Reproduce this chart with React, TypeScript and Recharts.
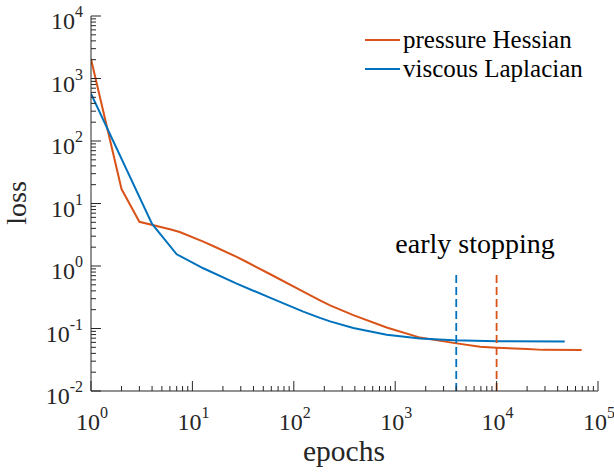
import { Customized, Legend, Line, LineChart, ReferenceLine, XAxis, YAxis } from "recharts";

// training loss (log-log)
const pressureEpochs = [1, 2, 3, 6, 7.5, 12.8, 16, 27, 34, 58, 124, 181, 228, 386, 824, 1760, 3740, 6860, 10000, 20000, 28800, 69000];
const pressureLoss = [2050, 17, 5.1, 3.87, 3.5, 2.45, 2.09, 1.41, 1.17, 0.745, 0.388, 0.282, 0.234, 0.164, 0.104, 0.0715, 0.0589, 0.0511, 0.0493, 0.0468, 0.0455, 0.0453];

const viscousEpochs = [1, 4, 7, 12.8, 27, 58, 124, 181, 228, 386, 824, 1760, 3740, 10000, 47000];
const viscousLoss = [571, 4.7, 1.54, 0.92, 0.528, 0.311, 0.186, 0.148, 0.13, 0.102, 0.0794, 0.0692, 0.0646, 0.0624, 0.0617];

// early stopping epochs: viscous, pressure
const stopEpochs = [4000, 10000];
const stopTopLoss = 0.8;

const xMajorTicks = [1, 10, 100, 1000, 10000, 100000];
const yMajorTicks = [0.01, 0.1, 1, 10, 100, 1000, 10000];

const FONT = "'Liberation Serif', 'DejaVu Serif', serif";
const AXIS = "#262626";
const ORANGE = "#D95319";
const BLUE = "#0072BD";

const pressureData = pressureEpochs.map((epoch, i) => ({ epoch, loss: pressureLoss[i] }));
const viscousData = viscousEpochs.map((epoch, i) => ({ epoch, loss: viscousLoss[i] }));

const series = [
  { name: "pressure Hessian", color: ORANGE, data: pressureData },
  { name: "viscous Laplacian", color: BLUE, data: viscousData },
];

function withMinors(majors: number[]) {
  const out: number[] = [];
  majors.forEach((m, i) => {
    out.push(m);
    if (i < majors.length - 1) for (let k = 2; k <= 9; k++) out.push(m * k);
  });
  return out;
}

const xTicks = withMinors(xMajorTicks);
const yTicks = withMinors(yMajorTicks);

function isMajor(v: number) {
  const e = Math.log10(v);
  return Math.abs(e - Math.round(e)) < 1e-6;
}

function expOf(v: number) {
  return String(Math.round(Math.log10(v)));
}

type Side = "bottom" | "top" | "left" | "right";

function AxisTick(props: any) {
  const { x, y, payload, side } = props as { x: number; y: number; payload: { value: number }; side: Side };
  const v = payload.value;
  const major = isMajor(v);
  const len = major ? 10 : 5;
  let line;
  if (side === "bottom") line = <line x1={x} x2={x} y1={y} y2={y - len} stroke={AXIS} />;
  else if (side === "top") line = <line x1={x} x2={x} y1={y} y2={y + len} stroke={AXIS} />;
  else if (side === "left") line = <line x1={x} x2={x + len} y1={y} y2={y} stroke={AXIS} />;
  else line = <line x1={x} x2={x - len} y1={y} y2={y} stroke={AXIS} />;

  let label = null;
  if (major && side === "bottom") {
    label = (
      <text x={x + 1} y={y + 39} textAnchor="middle" fontSize={24} fill={AXIS} fontFamily={FONT}>
        10<tspan dy={-12} fontSize={16}>{expOf(v)}</tspan>
      </text>
    );
  } else if (major && side === "left") {
    label = (
      <text x={x - 8} y={y + 13} textAnchor="end" fontSize={24} fill={AXIS} fontFamily={FONT}>
        10<tspan dy={-12} fontSize={16}>{expOf(v)}</tspan>
      </text>
    );
  }
  return (
    <g>
      {line}
      {label}
    </g>
  );
}

function LegendBox() {
  return (
    <div style={{ fontFamily: FONT, fontSize: 25, color: "#000", lineHeight: "29px" }}>
      {series.map((s) => (
        <div key={s.name} style={{ display: "flex", alignItems: "center", height: 29, whiteSpace: "nowrap" }}>
          <svg width={38} height={4} style={{ display: "block" }}>
            <line x1={0} x2={35} y1={2} y2={2} stroke={s.color} strokeWidth={2} />
          </svg>
          <span>{s.name}</span>
        </div>
      ))}
    </div>
  );
}

function Annotations() {
  return (
    <g fontFamily={FONT} fill="#000">
      <text x={475} y={253} textAnchor="middle" fontSize={28}>
        early stopping
      </text>
      <text x={344} y={461} textAnchor="middle" fontSize={29.5} fill={AXIS}>
        epochs
      </text>
      <text x={26} y={203} textAnchor="middle" fontSize={28} fill={AXIS} transform="rotate(-90, 26, 203)">
        loss
      </text>
    </g>
  );
}

export default function App() {
  return (
    <div style={{ position: "absolute", left: 0, top: 0, background: "#fff" }}>
      <LineChart width={614} height={475} margin={{ top: 16, right: 16, bottom: 0, left: 0 }} style={{ fontFamily: FONT }}>
        <XAxis
          dataKey="epoch"
          type="number"
          scale="log"
          domain={[1, 100000]}
          allowDataOverflow
          ticks={xTicks}
          interval={0}
          height={84}
          tickSize={0}
          tickMargin={0}
          stroke={AXIS}
          tick={(p: any) => <AxisTick {...p} side="bottom" />}
        />
        <XAxis
          xAxisId="top"
          orientation="top"
          dataKey="epoch"
          type="number"
          scale="log"
          domain={[1, 100000]}
          allowDataOverflow
          ticks={xTicks}
          interval={0}
          height={0}
          tickSize={0}
          tickMargin={0}
          stroke={AXIS}
          tick={(p: any) => <AxisTick {...p} side="top" />}
        />
        <YAxis
          type="number"
          scale="log"
          domain={[0.01, 10000]}
          allowDataOverflow
          ticks={yTicks}
          interval={0}
          width={91}
          tickSize={0}
          tickMargin={0}
          stroke={AXIS}
          tick={(p: any) => <AxisTick {...p} side="left" />}
        />
        <YAxis
          yAxisId="right"
          orientation="right"
          type="number"
          scale="log"
          domain={[0.01, 10000]}
          allowDataOverflow
          ticks={yTicks}
          interval={0}
          width={0}
          tickSize={0}
          tickMargin={0}
          stroke={AXIS}
          tick={(p: any) => <AxisTick {...p} side="right" />}
        />
        {series.map((s) => (
          <Line
            key={s.name}
            data={s.data}
            dataKey="loss"
            name={s.name}
            type="linear"
            stroke={s.color}
            strokeWidth={2}
            dot={false}
            activeDot={false}
            isAnimationActive={false}
          />
        ))}
        <ReferenceLine
          segment={[
            { x: stopEpochs[0], y: 0.01 },
            { x: stopEpochs[0], y: stopTopLoss },
          ]}
          stroke={BLUE}
          strokeWidth={1.8}
          strokeDasharray="8 4"
        />
        <ReferenceLine
          segment={[
            { x: stopEpochs[1], y: 0.01 },
            { x: stopEpochs[1], y: stopTopLoss },
          ]}
          stroke={ORANGE}
          strokeWidth={1.8}
          strokeDasharray="8 4"
        />
        <Legend
          layout="horizontal"
          verticalAlign="middle"
          align="center"
          content={<LegendBox />}
          wrapperStyle={{ left: 365, top: 25, width: 240, height: 58 }}
        />
        <Customized component={Annotations} />
      </LineChart>
    </div>
  );
}
